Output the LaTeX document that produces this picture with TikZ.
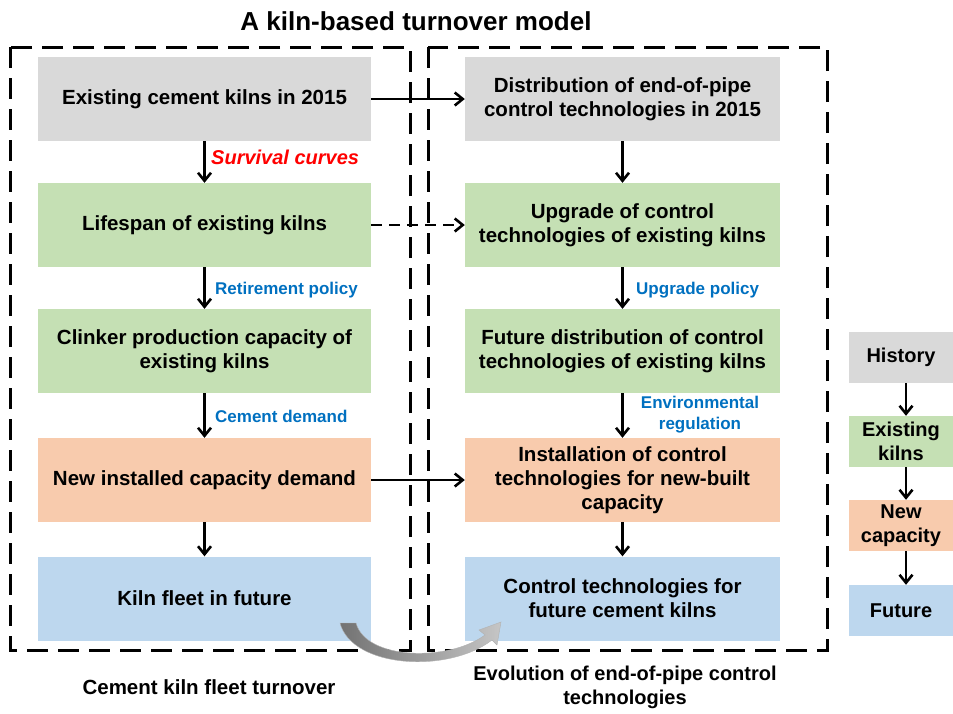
\documentclass[tikz,border=0pt]{standalone}
\usepackage{fontspec}
\setmainfont{Liberation Sans}
\usetikzlibrary{arrows.meta}
\definecolor{cgray}{HTML}{D9D9D9}
\definecolor{cgreen}{HTML}{C5E0B4}
\definecolor{corange}{HTML}{F8CBAD}
\definecolor{cblue}{HTML}{BDD7EE}
\definecolor{tblue}{HTML}{0070C0}
\definecolor{tred}{HTML}{FF0000}
\tikzset{
  box/.style={draw=none, align=center, inner sep=0pt, font=\fontsize{20.5}{24}\selectfont\bfseries},
  lbox/.style={box, minimum width=333pt, minimum height=84pt},
  rbox/.style={box, minimum width=315pt, minimum height=84pt},
  gbox/.style={box, minimum width=104pt, minimum height=51pt, font=\fontsize{20}{23.5}\selectfont\bfseries},
  arr/.style={line width=2.6pt, -{Straight Barb[length=8pt,width=13pt,line width=2.6pt]}},
  frame/.style={line width=3pt, dash pattern=on 21pt off 10pt},
  blab/.style={anchor=west, text=tblue, inner sep=0pt, font=\fontsize{17}{21}\selectfont\bfseries},
  caption/.style={align=center, inner sep=0pt, font=\fontsize{20.5}{24}\selectfont\bfseries}
}
\begin{document}
\begin{tikzpicture}[x=1pt,y=-1pt]
\useasboundingbox (0,0) rectangle (953,713);
% frames
\draw[frame] (10,47) rectangle (410,650);
\draw[frame] (428,47) rectangle (827,650);
% title
\node[caption, font=\fontsize{26}{30}\selectfont\bfseries] (title) at (416,21) {A kiln-based turnover model};
% left column
\node[lbox, fill=cgray] (b1) at (204.5,99) {Existing cement kilns in 2015};
\node[lbox, fill=cgreen] (b2) at (204.5,225) {Lifespan of existing kilns};
\node[lbox, fill=cgreen] (b3) at (204.5,351) {Clinker production capacity of\\existing kilns};
\node[lbox, fill=corange] (b4) at (204.5,480) {New installed capacity demand};
\node[lbox, fill=cblue] (b5) at (204.5,598.5) {Kiln fleet in future};
% right column
\node[rbox, fill=cgray] (r1) at (622.5,99) {Distribution of end-of-pipe\\control technologies in 2015};
\node[rbox, fill=cgreen] (r2) at (622.5,225) {Upgrade of control\\technologies of existing kilns};
\node[rbox, fill=cgreen] (r3) at (622.5,351) {Future distribution of control\\technologies of existing kilns};
\node[rbox, fill=corange] (r4) at (622.5,480) {Installation of control\\technologies for new-built\\capacity};
\node[rbox, fill=cblue] (r5) at (622.5,598.5) {Control technologies for\\future cement kilns};
% legend
\node[gbox, fill=cgray] (g1) at (901,357.5) {History};
\node[gbox, fill=cgreen] (g2) at (901,441.5) {Existing\\kilns};
\node[gbox, fill=corange] (g3) at (901,525.5) {New\\capacity};
\node[gbox, fill=cblue] (g4) at (901,610.5) {Future};
% vertical arrows
\foreach \a/\b in {b1/b2,b2/b3,b3/b4,b4/b5,r1/r2,r2/r3,r3/r4,r4/r5}
  \draw[arr] (\a.south) -- (\b.north);
\foreach \a/\b in {g1/g2,g2/g3,g3/g4}
  \draw[arr] ([xshift=5pt]\a.south) -- ([xshift=5pt]\b.north);
% horizontal arrows
\draw[arr] (b1.east) -- (r1.west);
\draw[arr, dash pattern=on 11pt off 7pt] (b2.east) -- (r2.west);
\draw[arr] (b4.east) -- (r4.west);
% labels
\node[anchor=west, inner sep=0pt, text=tred, font=\fontsize{20}{24}\selectfont\bfseries\itshape] (l1) at (211,157) {Survival curves};
\node[blab] (l2) at (215,290) {Retirement policy};
\node[blab] (l3) at (215,416) {Cement demand};
\node[blab] (l4) at (636,290) {Upgrade policy};
\node[blab, anchor=center, align=center] (l5) at (700,415) {Environmental\\regulation};
% captions
\node[caption] (c1) at (209,687) {Cement kiln fleet turnover};
\node[caption, font=\fontsize{20}{24}\selectfont\bfseries] (c2) at (625,687) {Evolution of end-of-pipe control\\technologies};
% curved gray arrow
\shade[left color=gray!90!black, right color=gray!45, draw=gray!60, line width=0.4pt]
  (340,623) .. controls (352,668) and (448,674) .. (492,640)
  -- (497,645) -- (501,622) -- (479,630) -- (485,635)
  .. controls (448,662) and (366,660) .. (356,623) -- cycle;
\end{tikzpicture}
\end{document}
